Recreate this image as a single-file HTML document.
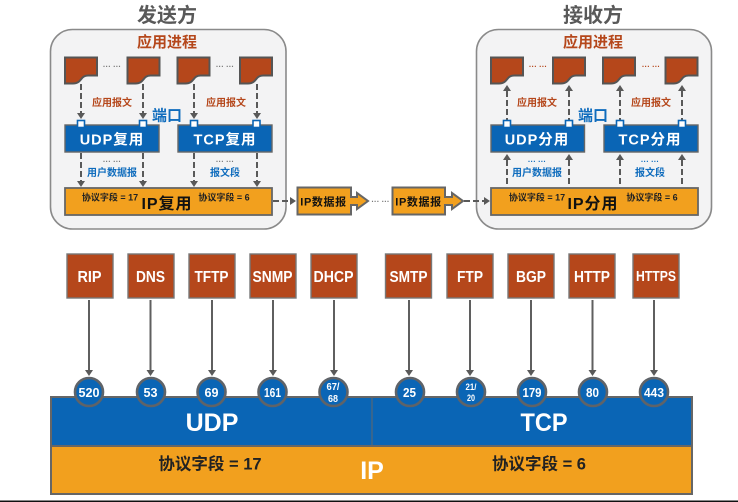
<!DOCTYPE html>
<html>
<head>
<meta charset="utf-8">
<style>
html,body{margin:0;padding:0;background:#fff;width:738px;height:502px;overflow:hidden}
svg{display:block;filter:blur(.35px)}
text{font-family:"Liberation Sans","Noto Sans CJK SC",sans-serif;text-anchor:middle;font-weight:bold}
.title{font-size:20px;fill:#595959}
.app{font-size:15px;fill:#b5471b}
.msg{font-size:10px;fill:#b5471b}
.blu{font-size:10px;fill:#0f6cbd}
.port{font-size:15px;fill:#0f6cbd}
.dots{font-size:8px;fill:#777}
.mux{font-size:14.5px;fill:#fff;letter-spacing:1px}
.fld{font-size:9px;fill:#222}
.ipm{font-size:16px;fill:#111;letter-spacing:1px}
.dg{font-size:11px;fill:#111;letter-spacing:.6px}
.pr{font-size:16px;fill:#fff}
.num{font-size:13px;fill:#fff}
.sm{font-size:10px;fill:#fff}
.big{font-size:25px;fill:#fff}
.bf{font-size:16.5px;fill:#222}
.d{stroke:#595959;stroke-width:2;stroke-dasharray:6 3;fill:none}
.h{fill:#595959;stroke:none}
.doc{fill:#b5471b;stroke:#555;stroke-width:2}
.bb{fill:#0a65b5;stroke:#666;stroke-width:1.4}
.ob{fill:#f2a01e;stroke:#666;stroke-width:1.8}
.pb{fill:#fff;stroke:#0a65b5;stroke-width:1.6}
.br{fill:#b5471b;stroke:#777;stroke-width:1.4}
.c{fill:#0a65b5;stroke:#5f6368;stroke-width:2.6}
.ln{stroke:#5f5f5f;stroke-width:2;fill:none}
</style>
</head>
<body>
<svg width="738" height="502" viewBox="0 0 738 502" xmlns="http://www.w3.org/2000/svg">
<defs>
<path id="doc" d="M0 0H32V18H23C15 18 17 26 8 26H0Z"/>
<path id="dn" d="M-4 -6H4L0 0Z"/>
<path id="up" d="M-4 6H4L0 0Z"/>
<path id="rt" d="M-6 -4V4L0 0Z"/>
</defs>

<text class="title" x="167" y="22">发送方</text>
<text class="title" x="593" y="22">接收方</text>

<!-- Left panel -->
<rect x="50.500" y="29.500" width="235.500" height="199.500" rx="22" fill="#f3f3f4" stroke="#8a8a8a" stroke-width="1.600"/>
<text class="app" x="167" y="47">应用进程</text>
<use href="#doc" class="doc" x="65" y="57.500"/>
<use href="#doc" class="doc" x="127.500" y="57.500"/>
<use href="#doc" class="doc" x="177.500" y="57.500"/>
<use href="#doc" class="doc" x="240" y="57.500"/>
<text class="dots" x="112" y="69">··· ···</text>
<text class="dots" x="225" y="69">··· ···</text>
<path class="d" d="M81 84V114M143 84V114M194 84V114M257 84V114"/>
<use href="#dn" class="h" x="81" y="119"/><use href="#dn" class="h" x="143" y="119"/><use href="#dn" class="h" x="194" y="119"/><use href="#dn" class="h" x="257" y="119"/>
<text class="msg" x="112" y="106">应用报文</text>
<text class="msg" x="226" y="106">应用报文</text>
<text class="port" x="167" y="120.500">端口</text>
<rect class="bb" x="65" y="125" width="94" height="27"/>
<rect class="bb" x="178" y="125" width="94" height="27"/>
<rect class="pb" x="77.500" y="120.500" width="7" height="7"/>
<rect class="pb" x="139.500" y="120.500" width="7" height="7"/>
<rect class="pb" x="190.500" y="120.500" width="7" height="7"/>
<rect class="pb" x="253" y="120.500" width="7" height="7"/>
<text class="mux" x="112" y="144.500">UDP复用</text>
<text class="mux" x="225" y="144.500">TCP复用</text>
<text class="dots" x="112" y="164">··· ···</text>
<text class="dots" x="225" y="164">··· ···</text>
<path class="d" d="M81 153V181M143 153V181M194 153V181M257 153V181"/>
<use href="#dn" class="h" x="81" y="187"/><use href="#dn" class="h" x="143" y="187"/><use href="#dn" class="h" x="194" y="187"/><use href="#dn" class="h" x="257" y="187"/>
<text class="blu" x="112" y="176">用户数据报</text>
<text class="blu" x="225" y="176">报文段</text>
<rect class="ob" x="65" y="188" width="207" height="27"/>
<text class="fld" x="110" y="200.500">协议字段 = 17</text>
<text class="fld" x="224" y="200.500">协议字段 = 6</text>
<text class="ipm" x="167" y="209">IP复用</text>

<!-- Right panel -->
<rect x="476.500" y="29.500" width="235" height="199.500" rx="22" fill="#f3f3f4" stroke="#8a8a8a" stroke-width="1.600"/>
<text class="app" x="593" y="47">应用进程</text>
<use href="#doc" class="doc" x="491" y="57.500"/>
<use href="#doc" class="doc" x="553" y="57.500"/>
<use href="#doc" class="doc" x="603" y="57.500"/>
<use href="#doc" class="doc" x="665.500" y="57.500"/>
<text class="dots" x="538" y="69" style="fill:#b5471b">··· ···</text>
<text class="dots" x="651" y="69" style="fill:#b5471b">··· ···</text>
<path class="d" d="M507 91V121M569 91V121M620 91V121M682 91V121"/>
<use href="#up" class="h" x="507" y="85"/><use href="#up" class="h" x="569" y="85"/><use href="#up" class="h" x="620" y="85"/><use href="#up" class="h" x="682" y="85"/>
<text class="msg" x="537" y="106">应用报文</text>
<text class="msg" x="651" y="106">应用报文</text>
<text class="port" x="593" y="120.500">端口</text>
<rect class="bb" x="491" y="125" width="93.500" height="27"/>
<rect class="bb" x="604" y="125" width="94" height="27"/>
<rect class="pb" x="503.500" y="120.500" width="7" height="7"/>
<rect class="pb" x="565.500" y="120.500" width="7" height="7"/>
<rect class="pb" x="616.500" y="120.500" width="7" height="7"/>
<rect class="pb" x="678.500" y="120.500" width="7" height="7"/>
<text class="mux" x="537" y="144.500">UDP分用</text>
<text class="mux" x="650" y="144.500">TCP分用</text>
<text class="dots" x="537" y="164" style="fill:#0f6cbd">··· ···</text>
<text class="dots" x="650" y="164" style="fill:#0f6cbd">··· ···</text>
<path class="d" d="M507 160V187M569 160V187M620 160V187M682 160V187"/>
<use href="#up" class="h" x="507" y="154"/><use href="#up" class="h" x="569" y="154"/><use href="#up" class="h" x="620" y="154"/><use href="#up" class="h" x="682" y="154"/>
<text class="blu" x="537" y="176">用户数据报</text>
<text class="blu" x="650" y="176">报文段</text>
<rect class="ob" x="491" y="188" width="207" height="27"/>
<text class="fld" x="537" y="200.500">协议字段 = 17</text>
<text class="fld" x="652" y="200.500">协议字段 = 6</text>
<text class="ipm" x="593" y="209">IP分用</text>

<!-- Middle datagrams -->
<path class="d" d="M273 201H290"/>
<use href="#rt" class="h" x="296" y="201"/>
<path d="M297.500 187.500H351V197H357V193L368 201L357 209V205H351V214.500H297.500Z" fill="#f2a01e" stroke="#666" stroke-width="2"/>
<text class="dg" x="323.500" y="205.500">IP数据报</text>
<text class="dots" x="380.500" y="204">··· ···</text>
<path d="M392.500 187.500H445V197H452V193L463 201L452 209V205H445V214.500H392.500Z" fill="#f2a01e" stroke="#666" stroke-width="2"/>
<text class="dg" x="418.500" y="205.500">IP数据报</text>
<path class="d" d="M464 201H484"/>
<use href="#rt" class="h" x="490" y="201"/>

<!-- Protocol boxes -->
<rect class="br" x="67" y="254" width="46" height="44"/>
<rect class="br" x="128" y="254" width="46" height="44"/>
<rect class="br" x="189" y="254" width="46" height="44"/>
<rect class="br" x="250" y="254" width="46" height="44"/>
<rect class="br" x="311" y="254" width="46" height="44"/>
<rect class="br" x="385.500" y="254" width="46" height="44"/>
<rect class="br" x="447" y="254" width="46" height="44"/>
<rect class="br" x="508" y="254" width="46" height="44"/>
<rect class="br" x="569" y="254" width="46" height="44"/>
<rect class="br" x="633" y="254" width="46" height="44"/>
<text class="pr" x="89.500" y="282" textLength="24" lengthAdjust="spacingAndGlyphs">RIP</text>
<text class="pr" x="150.500" y="282" textLength="29" lengthAdjust="spacingAndGlyphs">DNS</text>
<text class="pr" x="211.500" y="282" textLength="34" lengthAdjust="spacingAndGlyphs">TFTP</text>
<text class="pr" x="272.500" y="282" textLength="40" lengthAdjust="spacingAndGlyphs">SNMP</text>
<text class="pr" x="333.500" y="282" textLength="40" lengthAdjust="spacingAndGlyphs">DHCP</text>
<text class="pr" x="408.500" y="282" textLength="38" lengthAdjust="spacingAndGlyphs">SMTP</text>
<text class="pr" x="470" y="282" textLength="26" lengthAdjust="spacingAndGlyphs">FTP</text>
<text class="pr" x="531" y="282" textLength="30" lengthAdjust="spacingAndGlyphs">BGP</text>
<text class="pr" x="592" y="282" textLength="36" lengthAdjust="spacingAndGlyphs">HTTP</text>
<text class="pr" x="656" y="281" style="font-size:15px" textLength="40" lengthAdjust="spacingAndGlyphs">HTTPS</text>

<!-- Arrows -->
<path class="ln" d="M89 300V371M150.500 300V371M212 300V371M273 300V371M334 300V371M409 300V371M470 300V371M531 300V371M592.500 300V371M654 300V371"/>
<g class="h">
<use href="#dn" x="89" y="376"/><use href="#dn" x="150.500" y="376"/><use href="#dn" x="212" y="376"/><use href="#dn" x="273" y="376"/><use href="#dn" x="334" y="376"/><use href="#dn" x="409" y="376"/><use href="#dn" x="470" y="376"/><use href="#dn" x="531" y="376"/><use href="#dn" x="592.500" y="376"/><use href="#dn" x="654" y="376"/>
</g>

<!-- Bars -->
<rect x="51" y="397" width="641" height="49" fill="#0a65b5" stroke="#666" stroke-width="2"/>
<path d="M372 397V446" stroke="#666" stroke-width="1"/>
<rect x="51" y="446" width="641" height="48" fill="#f2a01e" stroke="#666" stroke-width="2"/>
<text class="big" x="212" y="431">UDP</text>
<text class="big" x="544" y="431" textLength="47" lengthAdjust="spacingAndGlyphs">TCP</text>
<text class="bf" x="210" y="469.500">协议字段 = 17</text>
<text class="bf" x="539" y="469.500">协议字段 = 6</text>
<text class="big" x="372" y="479">IP</text>

<!-- Port circles -->
<circle class="c" cx="89" cy="392" r="14"/>
<circle class="c" cx="151" cy="392" r="14"/>
<circle class="c" cx="211.500" cy="392" r="14"/>
<circle class="c" cx="272.500" cy="392" r="14"/>
<circle class="c" cx="333.500" cy="392" r="14"/>
<circle class="c" cx="410" cy="392" r="14"/>
<circle class="c" cx="471" cy="392" r="14"/>
<circle class="c" cx="532" cy="392" r="14"/>
<circle class="c" cx="593" cy="392" r="14"/>
<circle class="c" cx="654" cy="392" r="14"/>
<text class="num" x="89" y="397" textLength="21" lengthAdjust="spacingAndGlyphs">520</text>
<text class="num" x="150.500" y="397" textLength="14" lengthAdjust="spacingAndGlyphs">53</text>
<text class="num" x="211.500" y="397" textLength="14" lengthAdjust="spacingAndGlyphs">69</text>
<text class="num" x="272.500" y="397" textLength="17" lengthAdjust="spacingAndGlyphs">161</text>
<text class="sm" x="333" y="390" textLength="13" lengthAdjust="spacingAndGlyphs">67/</text>
<text class="sm" x="333" y="402" textLength="10" lengthAdjust="spacingAndGlyphs">68</text>
<text class="num" x="409.500" y="397" textLength="13" lengthAdjust="spacingAndGlyphs">25</text>
<text class="sm" x="471" y="390" style="font-size:9px" textLength="11" lengthAdjust="spacingAndGlyphs">21/</text>
<text class="sm" x="471" y="401" style="font-size:9px" textLength="8" lengthAdjust="spacingAndGlyphs">20</text>
<text class="num" x="532" y="397" textLength="19" lengthAdjust="spacingAndGlyphs">179</text>
<text class="num" x="592.500" y="397" textLength="13" lengthAdjust="spacingAndGlyphs">80</text>
<text class="num" x="654" y="397" textLength="20" lengthAdjust="spacingAndGlyphs">443</text>

<rect x="0" y="500.500" width="738" height="1.500" fill="#111"/>
</svg>
</body>
</html>
